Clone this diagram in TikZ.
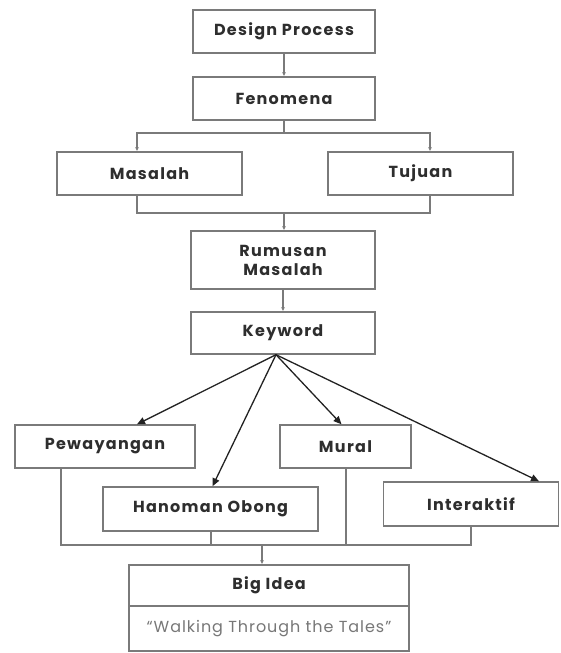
\documentclass[tikz,border=0pt]{standalone}
\usepackage{fontspec}
\setmainfont{Poppins}
\usetikzlibrary{arrows.meta}
\definecolor{boxc}{HTML}{7A7A7A}
\definecolor{txtc}{HTML}{2E2E2E}
\definecolor{subc}{HTML}{777777}
\definecolor{arrc}{HTML}{222222}
\newcommand{\lblfont}{\fontsize{16}{19}\selectfont\bfseries\addfontfeature{LetterSpace=8}}
\begin{document}
\begin{tikzpicture}[x=1pt,y=-1pt,
  box/.style={draw=boxc,line width=1.4pt,inner sep=0pt,align=center,
    text=txtc,font=\lblfont},
  conn/.style={draw=boxc,line width=1.5pt},
  arr/.style={conn,-{Latex[length=4pt,width=4pt]}},
  karr/.style={draw=arrc,line width=1.3pt,-{Triangle[length=8pt,width=7pt]}}]
\useasboundingbox (0,0) rectangle (560,653);
\node[box,minimum width=182pt,minimum height=43pt] (dp) at (284,31.5) {Design Process};
\node[box,minimum width=182pt,minimum height=43pt] (fen) at (284,98.5) {Fenomena};
\node[box,minimum width=185pt,minimum height=43pt] (mas) at (149.5,173.5) {Masalah};
\node[box,minimum width=185pt,minimum height=43pt] (tuj) at (420.5,173.5) {Tujuan};
\node[box,minimum width=184pt,minimum height=58pt] (rum) at (283,260) {Rumusan\\Masalah};
\node[box,minimum width=184pt,minimum height=42pt] (kw) at (283,333) {Keyword};
\node[box,minimum width=180pt,minimum height=43pt] (pew) at (105,446.5) {Pewayangan};
\node[box,minimum width=215pt,minimum height=44pt] (han) at (210.5,509) {Hanoman Obong};
\node[box,minimum width=131pt,minimum height=43pt] (mur) at (345.5,446.5) {Mural};
\node[box,minimum width=175pt,minimum height=44pt] (int) at (471,504) {Interaktif};
\node[box,minimum width=280pt,minimum height=41pt] (big) at (269,585.5) {Big Idea};
\node[box,minimum width=280pt,minimum height=45pt,font=\fontsize{16}{19}\selectfont\addfontfeature{LetterSpace=6},text=subc] (wt) at (269,628.5) {“Walking Through the Tales”};
% top connectors
\draw[arr] (dp.south) -- (fen.north);
\coordinate (fb) at (284,133);
\draw[conn] (fen.south) -- (fb);
\draw[arr] (fb) -| ([xshift=-12.5pt]mas.north);
\draw[arr] (fb) -| ([xshift=9.5pt]tuj.north);
\coordinate (mb) at (284,213);
\draw[conn] ([xshift=-12.5pt]mas.south) |- (mb);
\draw[conn] ([xshift=9.5pt]tuj.south) |- (mb);
\draw[arr] (mb) -- (rum.north -| mb);
\draw[arr] (rum.south) -- (kw.north);
% keyword arrows
\coordinate (kp) at ([xshift=-7pt]kw.south);
\draw[karr] (kp) -- ([xshift=32pt]pew.north);
\draw[karr] (kp) -- ([xshift=2pt]han.north);
\draw[karr] (kp) -- ([xshift=-4pt]mur.north);
\draw[karr] (kp) -- ([xshift=68pt]int.north);
% bottom merge
\coordinate (bb) at (262,545);
\draw[conn] ([xshift=-44pt]pew.south) |- (bb);
\draw[conn] (int.south) |- (bb);
\draw[conn,line width=1.8pt] ([xshift=0.5pt]han.south) -- ([xshift=0.5pt]han.south |- bb);
\draw[conn,line width=1.8pt] ([xshift=0.5pt]mur.south) -- ([xshift=0.5pt]mur.south |- bb);
\draw[arr] (bb) -- (big.north -| bb);
\end{tikzpicture}
\end{document}
